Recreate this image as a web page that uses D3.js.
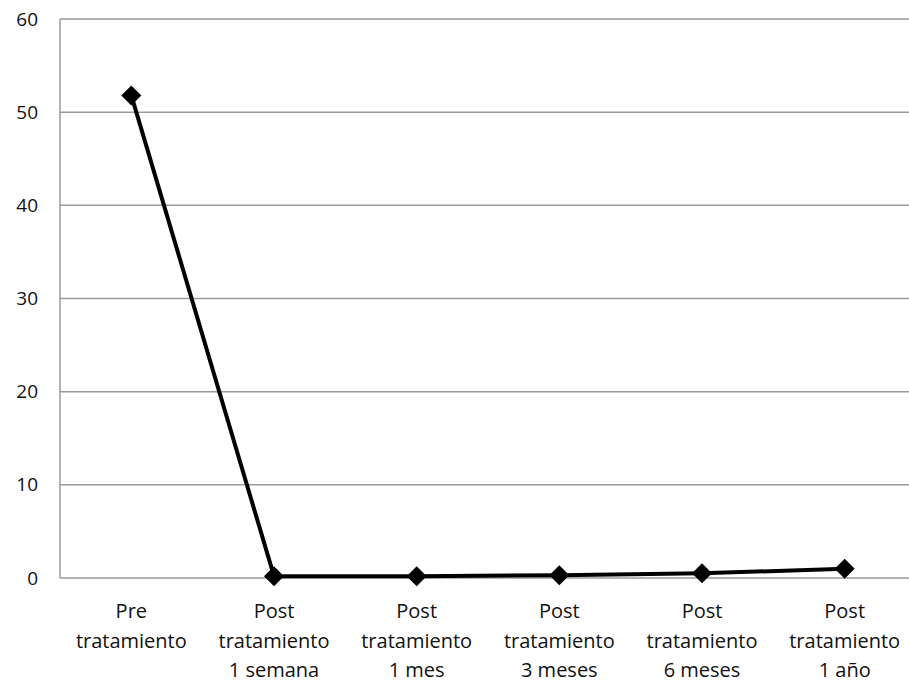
<!DOCTYPE html>
<html><head><meta charset="utf-8">
<script src="https://cdn.jsdelivr.net/npm/d3@7"></script>
<style>body{margin:0;background:#fff}svg{display:block}</style>
</head><body>
<svg id="c" width="909" height="683"></svg>
<script>
const categories = [
  ["Pre","tratamiento"],
  ["Post","tratamiento","1 semana"],
  ["Post","tratamiento","1 mes"],
  ["Post","tratamiento","3 meses"],
  ["Post","tratamiento","6 meses"],
  ["Post","tratamiento","1 año"]
];
const values = [51.8, 0.2, 0.2, 0.3, 0.5, 1.0];
const yTicks = [0,10,20,30,40,50,60];

(function(){
const svg = d3.select("#c");
const mLeft = 60, mRight = 916, mTop = 19, mBottom = 578;
const x = d3.scaleBand().domain(d3.range(categories.length)).range([mLeft, mRight]);
const y = d3.scaleLinear().domain([0,60]).range([mBottom, mTop]);
const font = "'Open Sans', 'Noto Sans', sans-serif";

svg.append("g").selectAll("line").data(yTicks).join("line")
  .attr("x1", mLeft).attr("x2", mRight)
  .attr("y1", d=>y(d)).attr("y2", d=>y(d))
  .attr("stroke", "#9a9a9a").attr("stroke-width", 1.5);
svg.append("line").attr("x1", mLeft).attr("x2", mLeft).attr("y1", mTop).attr("y2", mBottom)
  .attr("stroke", "#9a9a9a").attr("stroke-width", 1.5);

svg.append("g").selectAll("text").data(yTicks).join("text")
  .attr("x", 38).attr("y", d=>y(d)).attr("dy", "0.35em")
  .attr("text-anchor", "end").attr("font-family", font).attr("font-size", 19)
  .attr("fill", "#111").text(d=>d);

const xl = svg.append("g").selectAll("text").data(categories).join("text")
  .attr("text-anchor", "middle").attr("font-family", font).attr("font-size", 20)
  .attr("fill", "#111");
xl.each(function(lines,i){
  d3.select(this).selectAll("tspan").data(lines).join("tspan")
    .attr("x", x(i)+x.bandwidth()/2).attr("y", (d,j)=>618 + j*29.5).text(d=>d);
});

const line = d3.line().x((d,i)=>x(i)+x.bandwidth()/2).y(d=>y(d));
svg.append("path").datum(values).attr("d", line)
  .attr("fill", "none").attr("stroke", "#000").attr("stroke-width", 4)
  .attr("stroke-linejoin", "round");

svg.append("g").selectAll("path").data(values).join("path")
  .attr("d", d3.symbol().type(d3.symbolSquare).size(200))
  .attr("transform", (d,i)=>`translate(${x(i)+x.bandwidth()/2},${y(d)}) rotate(45)`)
  .attr("fill", "#000");
})();
</script>
</body></html>
